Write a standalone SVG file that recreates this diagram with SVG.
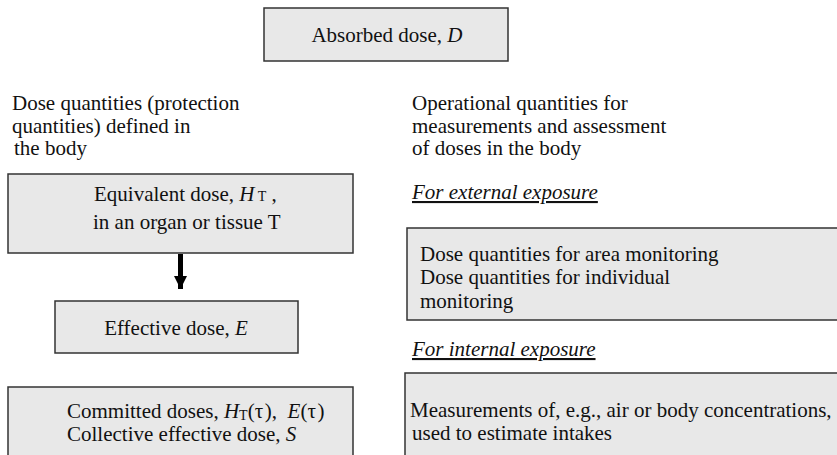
<svg xmlns="http://www.w3.org/2000/svg" width="837" height="455" viewBox="0 0 837 455" font-family="Liberation Serif, Times New Roman, serif">
<style>
text{font-family:'Liberation Serif','Times New Roman',serif;font-size:21px;fill:#111}
.box{fill:#e8e8e8;stroke:#333;stroke-width:1.5}
.i{font-style:italic}
.sub{font-size:14px}
.u{font-style:italic;text-decoration:underline}
</style>
<defs>
<marker id="ah" markerWidth="14" markerHeight="14" refX="13" refY="6.5" orient="auto" markerUnits="userSpaceOnUse" viewBox="0 0 14 14">
<path d="M0,0 L13,6.5 L0,13 Z" fill="#000"/>
</marker>
</defs>
<rect width="837" height="455" fill="#fff"/>
<g id="absorbed">
<rect class="box" x="264" y="8" width="244" height="53"/>
<text x="387" y="42" text-anchor="middle">Absorbed dose, <tspan class="i">D</tspan></text>
</g>
<g id="left-heading">
<text x="12" y="110">Dose quantities (protection</text>
<text x="12" y="133">quantities) defined in</text>
<text x="14" y="155">the body</text>
</g>
<g id="right-heading">
<text x="412" y="110">Operational quantities for</text>
<text x="412" y="133">measurements and assessment</text>
<text x="412" y="155">of doses in the body</text>
</g>
<g id="equivalent">
<rect class="box" x="8" y="174" width="345" height="79"/>
<text x="94" y="201">Equivalent dose, <tspan class="i">H</tspan><tspan class="sub"> T</tspan><tspan> ,</tspan></text>
<text x="93" y="229">in an organ or tissue T</text>
</g>
<g id="effective">
<rect class="box" x="55" y="301" width="243" height="52"/>
<text x="176" y="335" text-anchor="middle">Effective dose, <tspan class="i">E</tspan></text>
</g>
<g id="committed">
<rect class="box" x="8" y="387" width="345" height="80"/>
<text x="67" y="418">Committed doses, <tspan class="i">H</tspan><tspan class="sub" dy="2">T</tspan><tspan dy="-2">(τ&#8202;),&#160; </tspan><tspan class="i">E</tspan><tspan>(τ&#8202;)</tspan></text>
<text x="67" y="441">Collective effective dose, <tspan class="i">S</tspan></text>
</g>
<g id="external-label">
<text class="u" x="412" y="199">For external exposure</text>
</g>
<g id="external">
<rect class="box" x="407" y="228" width="440" height="92"/>
<text x="420" y="261">Dose quantities for area monitoring</text>
<text x="420" y="284">Dose quantities for individual</text>
<text x="420" y="308">monitoring</text>
</g>
<g id="internal-label">
<text class="u" x="412" y="356">For internal exposure</text>
</g>
<g id="internal">
<rect class="box" x="405" y="373" width="440" height="95"/>
<text x="410" y="417">Measurements of, e.g., air or body concentrations,</text>
<text x="412" y="440">used to estimate intakes</text>
</g>
<g id="connectors">
<line x1="180.5" y1="254" x2="180.5" y2="289" stroke="#000" stroke-width="5" marker-end="url(#ah)"/>
</g>
</svg>
